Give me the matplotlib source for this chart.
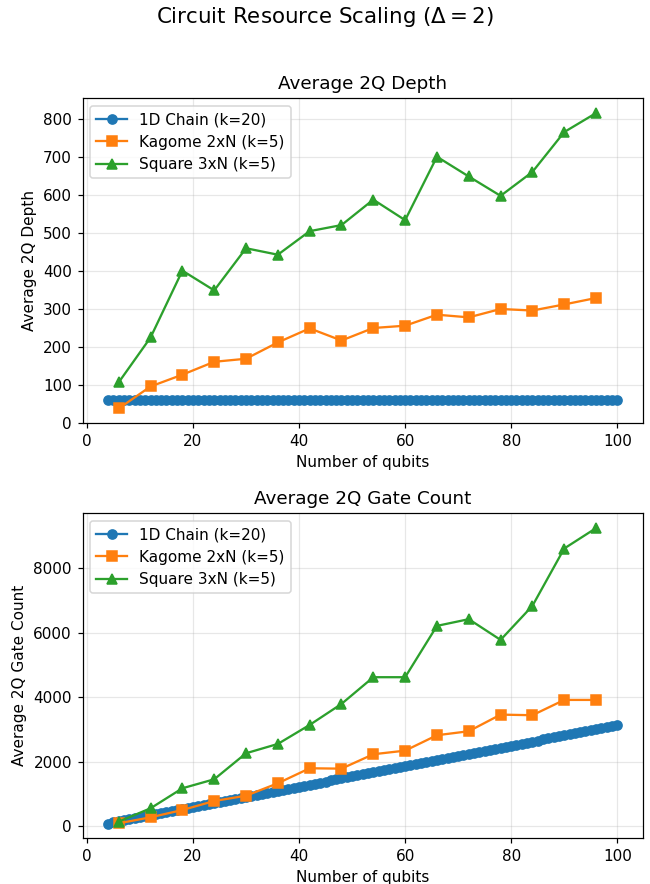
import matplotlib
matplotlib.use("Agg")
import matplotlib.pyplot as plt

# Qubit counts
chain_n = list(range(4, 101))
lattice_n = [6, 12, 18, 24, 30, 36, 42, 48, 54, 60, 66, 72, 78, 84, 90, 96]

# Average two-qubit depth
chain_depth = [61.5] * len(chain_n)
kagome_depth = [38, 96, 127, 161, 169, 212, 249, 217, 250, 256, 285, 278, 300, 296, 312, 329]
square_depth = [107, 225, 401, 349, 460, 443, 505, 521, 588, 534, 701, 649, 598, 661, 766, 816]

# Average two-qubit gate count
chain_gates = [
    77, 109, 141, 173, 204, 236, 268, 300, 332, 363, 395, 427, 459, 491, 522, 554,
    586, 618, 650, 681, 713, 745, 777, 809, 840, 872, 904, 936, 968, 999, 1031,
    1063, 1095, 1127, 1158, 1190, 1222, 1254, 1286, 1317, 1349, 1381, 1413, 1445,
    1476, 1508, 1540, 1572, 1604, 1635, 1667, 1699, 1731, 1763, 1794, 1826, 1858,
    1890, 1922, 1953, 1985, 2017, 2049, 2081, 2112, 2144, 2176, 2208, 2240, 2271,
    2303, 2335, 2367, 2399, 2430, 2462, 2494, 2526, 2558, 2589, 2621, 2653, 2685,
    2717, 2748, 2780, 2812, 2844, 2876, 2907, 2939, 2971, 3003, 3035, 3066, 3098,
    3130,
]
kagome_gates = [84, 270, 497, 776, 941, 1326, 1792, 1780, 2227, 2339, 2817, 2941, 3457, 3438, 3913, 3913]
square_gates = [135, 550, 1171, 1450, 2258, 2547, 3137, 3789, 4618, 4618, 6211, 6419, 5776, 6832, 8612, 9245]

labels = ["1D Chain (k=20)", "Kagome 2xN (k=5)", "Square 3xN (k=5)"]
markers = ["o", "s", "^"]

DPI = 110
fig = plt.figure(figsize=(650 / DPI, 884 / DPI), dpi=DPI)
ax1 = fig.add_axes([0.1272, 0.5212, 0.8616, 0.3676])
ax2 = fig.add_axes([0.1272, 0.0517, 0.8616, 0.3676])

panels = [
    (ax1, "Average 2Q Depth", (chain_depth, kagome_depth, square_depth)),
    (ax2, "Average 2Q Gate Count", (chain_gates, kagome_gates, square_gates)),
]

for ax, name, series in panels:
    xs = [chain_n, lattice_n, lattice_n]
    for x, y, lab, m in zip(xs, series, labels, markers):
        ax.plot(x, y, marker=m, label=lab)
    ax.set_title(name)
    ax.set_xlabel("Number of qubits")
    ax.set_ylabel(name)
    ax.grid(True, alpha=0.3)
    ax.legend(loc="upper left")

fig.suptitle(r"Circuit Resource Scaling ($\Delta = 2$)", fontsize=14, y=0.9808, va="center")

fig.savefig("out.png", dpi=DPI)
